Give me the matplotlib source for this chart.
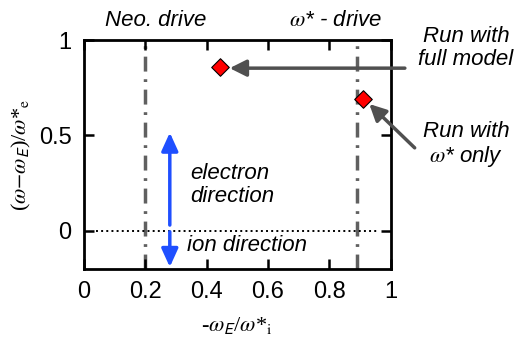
import matplotlib
matplotlib.use("Agg")
import matplotlib.pyplot as plt

plt.rcParams["font.family"] = ["Liberation Sans", "DejaVu Sans"]
plt.rcParams["mathtext.fontset"] = "stix"

# data
runs_x = [0.445, 0.91]
runs_y = [0.86, 0.69]
drive_lines = [0.2, 0.89]
xticks = [0, 0.2, 0.4, 0.6, 0.8, 1]
xtick_labels = ["0", "0.2", "0.4", "0.6", "0.8", "1"]
yticks = [0, 0.5, 1]
ytick_labels = ["0", "0.5", "1"]

fig = plt.figure(figsize=(5.21, 3.43), dpi=100)
ax = fig.add_axes([0.161, 0.216, 0.589, 0.667])
ax.set_xlim(0, 1)
ax.set_ylim(-0.2, 1)

for xv in drive_lines:
    ax.axvline(xv, color="#606060", lw=2.5, ls=(0, (4.3, 2.2, 0.8, 2.2)), zorder=1)
ax.axhline(0, xmin=0.04, xmax=0.96, color="black", lw=1.4, ls=":", zorder=1)

ax.scatter(runs_x, runs_y, marker="D", s=80, color="red", edgecolor="black",
           linewidth=0.8, zorder=4)

ax.set_xticks(xticks)
ax.set_xticklabels(xtick_labels)
ax.set_yticks(yticks)
ax.set_yticklabels(ytick_labels)
ax.tick_params(direction="in", length=7, width=1.8, labelsize=17, top=True,
               right=True, pad=9)
for s in ax.spines.values():
    s.set_linewidth(2)

ax.set_xlabel(r"-$\omega_\mathsf{E}$/$\omega$*$_\mathrm{i}$", fontsize=16,
              family="Liberation Serif", labelpad=8)
ax.set_ylabel(r"($\omega$$-$$\omega_\mathsf{E}$)/$\omega$*$_\mathrm{e}$", fontsize=16,
              family="Liberation Serif", labelpad=4)

# labels above the drive lines
ax.text(0.235, 1.05, "Neo. drive", ha="center", va="bottom", fontsize=16,
        style="italic", clip_on=False)
ax.text(0.82, 1.05, r"$\omega$* - drive", ha="center", va="bottom",
        fontsize=16, style="italic", clip_on=False)

# grey annotation arrows
grey_arrow = dict(arrowstyle="-|>,head_length=1.0,head_width=0.5",
                  color="#505050", lw=2.5, shrinkA=0, shrinkB=0)
ax.annotate("", xy=(0.475, 0.853), xytext=(1.046, 0.853),
            annotation_clip=False, arrowprops=grey_arrow)
ax.annotate("", xy=(0.93, 0.665), xytext=(1.078, 0.435),
            annotation_clip=False, arrowprops=grey_arrow)
ax.text(1.245, 0.96, "Run with\nfull model", ha="center", va="center",
        fontsize=16, style="italic", linespacing=1.1, clip_on=False)
ax.text(1.245, 0.45, "Run with\n$\\omega$* only", ha="center", va="center",
        fontsize=16, style="italic", linespacing=1.1, clip_on=False)

# blue direction arrows
blue = "#1f4fff"
blue_arrow = dict(arrowstyle="-|>,head_length=1.1,head_width=0.5",
                  color=blue, lw=2.5, shrinkA=0, shrinkB=0)
ax.annotate("", xy=(0.28, 0.515), xytext=(0.28, 0.03), arrowprops=blue_arrow)
ax.annotate("", xy=(0.28, -0.19), xytext=(0.28, -0.005), arrowprops=blue_arrow)
ax.text(0.345, 0.24, "electron\ndirection", ha="left", va="center",
        fontsize=16, style="italic", linespacing=1.15)
ax.text(0.335, -0.075, "ion direction", ha="left", va="center",
        fontsize=16, style="italic")

fig.savefig("out.png", dpi=100)
